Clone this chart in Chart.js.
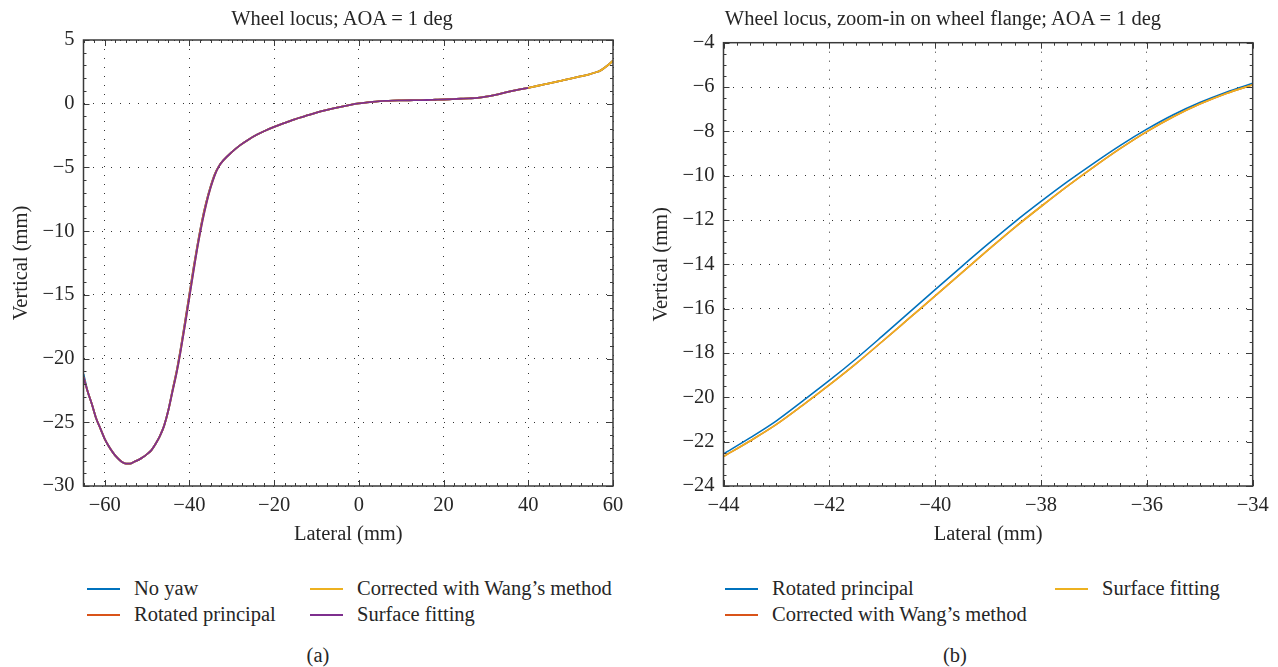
<!DOCTYPE html>
<html>
<head>
<meta charset="utf-8">
<script src="https://cdn.jsdelivr.net/npm/chart.js@4.4.0/dist/chart.umd.min.js"></script>
<style>
  html, body { margin: 0; padding: 0; background: #fff; }
  #page { position: relative; width: 1278px; height: 667px; overflow: hidden;
          font-family: 'Liberation Serif', 'Times New Roman', serif; color: #262626; }
  canvas { position: absolute; top: 0; }
  .title { position: absolute; top: 6px; font-size: 20.5px; line-height: 24px; white-space: nowrap; transform: translateX(-50%); }
  .item { position: absolute; font-size: 20.5px; line-height: 24px; white-space: nowrap; }
  .item i { display: inline-block; width: 33px; height: 2px; vertical-align: middle; margin-right: 14px; position: relative; top: -1px; }
  .cap { position: absolute; top: 643px; font-size: 20.5px; line-height: 24px; transform: translateX(-50%); }
</style>
</head>
<body>
<div id="page">
  <canvas id="wheel-locus" width="640" height="560" style="left:0px"></canvas>
  <canvas id="wheel-flange" width="638" height="560" style="left:640px"></canvas>

  <div class="title" style="left:342px">Wheel locus; AOA = 1 deg</div>
  <div class="title" style="left:943px">Wheel locus, zoom-in on wheel flange; AOA = 1 deg</div>

  <div class="item" style="left:87px; top:576px"><i style="background:#0072BD"></i>No yaw</div>
  <div class="item" style="left:87px; top:602px"><i style="background:#D95319"></i>Rotated principal</div>
  <div class="item" style="left:310px; top:576px"><i style="background:#EDB120"></i>Corrected with Wang’s method</div>
  <div class="item" style="left:310px; top:602px"><i style="background:#7E2F8E"></i>Surface fitting</div>

  <div class="item" style="left:725px; top:576px"><i style="background:#0072BD"></i>Rotated principal</div>
  <div class="item" style="left:725px; top:602px"><i style="background:#D95319"></i>Corrected with Wang’s method</div>
  <div class="item" style="left:1055px; top:576px"><i style="background:#EDB120"></i>Surface fitting</div>

  <div class="cap" style="left:318px">(a)</div>
  <div class="cap" style="left:955px">(b)</div>
</div>

<script>
// (a) full wheel locus
const leftLateral = [-65, -64, -63, -62, -61, -60, -59, -58, -57, -56, -55, -54, -53, -52, -51, -50, -49, -48, -47, -46,
    -45, -44, -43, -42, -41, -40, -39, -38, -37, -36, -35, -34, -33, -32,
    -30, -28, -26, -24, -22, -20, -18, -16, -14, -12, -10, -8, -6, -4, -2, 0, 2, 4, 6, 8, 10, 12, 14, 16, 18, 20,
    22, 24, 26, 28, 30, 32, 34, 36, 38, 40, 42, 44, 46, 48, 50, 52, 54, 56, 57, 58, 59, 60];

const noYaw = [-21.2, -22.6, -23.6, -24.7, -25.5, -26.3, -26.9, -27.4, -27.8, -28.1, -28.25, -28.25, -28.1, -27.95, -27.75, -27.5, -27.2, -26.7, -26.1, -25.3,
    -24.1, -22.5, -20.95, -19.1, -17.05, -14.95, -12.85, -10.9, -9.15, -7.7, -6.5, -5.52, -4.88, -4.45,
    -3.8, -3.25, -2.8, -2.42, -2.1, -1.82, -1.56, -1.33, -1.1, -0.9, -0.7, -0.52, -0.36, -0.22, -0.09, 0.02, 0.1, 0.17, 0.22, 0.25, 0.26, 0.27, 0.28, 0.29, 0.31, 0.33,
    0.36, 0.39, 0.42, 0.46, 0.55, 0.68, 0.83, 0.98, 1.12, 1.25, 1.39, 1.53, 1.67, 1.82, 1.97, 2.12, 2.27, 2.47, 2.6, 2.82, 3.08, 3.37];

const rotatedPrincipal = [-21.45, -22.6, -23.6, -24.7, -25.5, -26.3, -26.9, -27.4, -27.8, -28.1, -28.25, -28.25, -28.1, -27.95, -27.75, -27.5, -27.2, -26.7, -26.1, -25.3,
    -24.1, -22.5, -20.95, -19.1, -17.05, -14.95, -12.85, -10.9, -9.15, -7.7, -6.5, -5.52, -4.88, -4.45,
    -3.8, -3.25, -2.8, -2.42, -2.1, -1.82, -1.56, -1.33, -1.1, -0.9, -0.7, -0.52, -0.36, -0.22, -0.09, 0.02, 0.1, 0.17, 0.22, 0.25, 0.26, 0.27, 0.28, 0.29, 0.31, 0.33,
    0.36, 0.39, 0.42, 0.46, 0.55, 0.68, 0.83, 0.98, 1.12, 1.25, 1.39, 1.53, 1.67, 1.82, 1.97, 2.12, 2.27, 2.47, 2.6, 2.82, 3.08, 3.37];

const wangCorrected = [-21.45, -22.6, -23.6, -24.7, -25.5, -26.3, -26.9, -27.4, -27.8, -28.1, -28.25, -28.25, -28.1, -27.95, -27.75, -27.5, -27.2, -26.7, -26.1, -25.3,
    -24.1, -22.6, -21.1, -19.3, -17.3, -15.2, -13.1, -11.1, -9.35, -7.85, -6.6, -5.6, -4.9, -4.45,
    -3.8, -3.25, -2.8, -2.42, -2.1, -1.82, -1.56, -1.33, -1.1, -0.9, -0.7, -0.52, -0.36, -0.22, -0.09, 0.02, 0.1, 0.17, 0.22, 0.25, 0.26, 0.27, 0.28, 0.29, 0.31, 0.33,
    0.36, 0.39, 0.42, 0.46, 0.55, 0.68, 0.83, 0.98, 1.12, 1.25, 1.39, 1.53, 1.67, 1.82, 1.97, 2.12, 2.27, 2.47, 2.6, 2.82, 3.08, 3.37];

// surface fitting stops at 40 mm
const surfaceFit = [-21.45, -22.6, -23.6, -24.7, -25.5, -26.3, -26.9, -27.4, -27.8, -28.1, -28.25, -28.25, -28.1, -27.95, -27.75, -27.5, -27.2, -26.7, -26.1, -25.3,
    -24.1, -22.6, -21.1, -19.3, -17.3, -15.2, -13.1, -11.1, -9.35, -7.85, -6.6, -5.6, -4.9, -4.45,
    -3.8, -3.25, -2.8, -2.42, -2.1, -1.82, -1.56, -1.33, -1.1, -0.9, -0.7, -0.52, -0.36, -0.22, -0.09, 0.02, 0.1, 0.17, 0.22, 0.25, 0.26, 0.27, 0.28, 0.29, 0.31, 0.33,
    0.36, 0.39, 0.42, 0.46, 0.55, 0.68, 0.83, 0.98, 1.12, 1.25];

const leftXTicks = [-60, -40, -20, 0, 20, 40, 60];
const leftYTicks = [-30, -25, -20, -15, -10, -5, 0, 5];

// (b) zoom on the flange
const zoomLateral = [-44, -43.5, -43, -42.5, -42, -41.5, -41, -40.5, -40, -39.5, -39, -38.5, -38, -37.5, -37, -36.5, -36, -35.5, -35, -34.5, -34];
const rotatedZoom = [-22.55, -21.83, -21.06, -20.16, -19.24, -18.27, -17.24, -16.19, -15.14, -14.10, -13.08, -12.09, -11.16, -10.27, -9.43, -8.63, -7.90, -7.25, -6.70, -6.23, -5.83];
const wangZoom = [-22.67, -21.97, -21.22, -20.35, -19.44, -18.49, -17.48, -16.45, -15.42, -14.38, -13.35, -12.34, -11.39, -10.47, -9.60, -8.77, -8.01, -7.34, -6.77, -6.29, -5.90];
const surfaceZoom = [-22.67, -21.97, -21.22, -20.35, -19.44, -18.49, -17.48, -16.45, -15.42, -14.38, -13.35, -12.34, -11.39, -10.47, -9.60, -8.77, -8.01, -7.34, -6.77, -6.29, -5.90];

const rightXTicks = [-44, -42, -40, -38, -36, -34];
const rightYTicks = [-24, -22, -20, -18, -16, -14, -12, -10, -8, -6, -4];

Chart.defaults.font.family = "'Liberation Serif', 'Times New Roman', serif";
Chart.defaults.font.size = 20.5;
Chart.defaults.color = '#262626';

function pts(xs, ys) {
    return ys.map((y, i) => ({x: xs[i], y: y}));
}

function minus(v) {
    return v < 0 ? '\u2212' + Math.abs(v) : String(v);
}

// box round the plot with inward major and minor ticks, like the original figure
const boxTicks = {
    id: 'boxTicks',
    afterDraw(chart, args, opts) {
        const {ctx, chartArea: a} = chart;
        const sx = chart.scales.x, sy = chart.scales.y;
        ctx.save();
        ctx.strokeStyle = '#3a3a3a';
        ctx.lineWidth = 1;
        ctx.beginPath();
        const mark = (s, v, len) => {
            const p = Math.round(s.getPixelForValue(v)) + 0.5;
            if (s.isHorizontal()) {
                ctx.moveTo(p, a.bottom); ctx.lineTo(p, a.bottom - len);
                ctx.moveTo(p, a.top); ctx.lineTo(p, a.top + len);
            } else {
                ctx.moveTo(a.left, p); ctx.lineTo(a.left + len, p);
                ctx.moveTo(a.right, p); ctx.lineTo(a.right - len, p);
            }
        };
        [[sx, opts.xMinor], [sy, opts.yMinor]].forEach(([s, step]) => {
            for (let v = s.min; v <= s.max + 1e-9; v += step) mark(s, v, 3);
            s.ticks.forEach(t => mark(s, t.value, 6));
        });
        ctx.stroke();
        ctx.lineWidth = 1.5;
        ctx.strokeRect(a.left, a.top, a.right - a.left, a.bottom - a.top);
        ctx.restore();
    }
};

// order: higher number is painted first, so the last series of the legend ends on top
function line(label, data, color, width, order) {
    return {
        label: label,
        data: data,
        order: order,
        showLine: true,
        borderColor: color,
        backgroundColor: color,
        borderWidth: width,
        pointRadius: 0,
        cubicInterpolationMode: 'monotone',
        fill: false
    };
}

function axis(min, max, tickValues, title, horizontal) {
    const a = {
        type: 'linear',
        min: min,
        max: max,
        afterBuildTicks: s => { s.ticks = tickValues.map(v => ({value: v})); },
        ticks: {padding: horizontal ? 7 : 9, autoSkip: false, maxRotation: 0, callback: v => minus(v)},
        grid: {color: 'rgba(0,0,0,0.8)', lineWidth: 1, drawTicks: false},
        border: {display: false, dash: [1, 8]},
        title: {display: true, text: title}
    };
    if (horizontal) {
        a.afterFit = s => { s.height = 74; };
        a.title.padding = {top: 0, bottom: 12.7};
    } else {
        a.afterFit = s => { s.width = 83.5; };
        a.title.padding = {top: 9, bottom: 0};
    }
    return a;
}

new Chart('wheel-locus', {
    type: 'scatter',
    data: {
        datasets: [
            line('No yaw', pts(leftLateral, noYaw), '#0072BD', 1.8, 4),
            line('Rotated principal', pts(leftLateral, rotatedPrincipal), '#D95319', 1.8, 3),
            line('Corrected with Wang’s method', pts(leftLateral, wangCorrected), '#EDB120', 1.8, 2),
            line('Surface fitting', pts(leftLateral, surfaceFit), '#7E2F8E', 1.8, 1)
        ]
    },
    options: {
        responsive: false,
        animation: false,
        devicePixelRatio: 1,
        layout: {padding: {top: 40, right: 27, left: 0, bottom: 0}},
        scales: {
            x: axis(-65, 60, leftXTicks, 'Lateral (mm)', true),
            y: axis(-30, 5, leftYTicks, 'Vertical (mm)', false)
        },
        plugins: {
            legend: {display: false},
            tooltip: {enabled: false},
            boxTicks: {xMinor: 2.5, yMinor: 1}
        }
    },
    plugins: [boxTicks]
});

new Chart('wheel-flange', {
    type: 'scatter',
    data: {
        datasets: [
            line('Rotated principal', pts(zoomLateral, rotatedZoom), '#0072BD', 1.6, 3),
            line('Corrected with Wang’s method', pts(zoomLateral, wangZoom), '#D95319', 1.6, 2),
            line('Surface fitting', pts(zoomLateral, surfaceZoom), '#EDB120', 1.6, 1)
        ]
    },
    options: {
        responsive: false,
        animation: false,
        devicePixelRatio: 1,
        layout: {padding: {top: 42.7, right: 25.3, left: 0, bottom: 0}},
        scales: {
            x: axis(-44, -34, rightXTicks, 'Lateral (mm)', true),
            y: axis(-24, -4, rightYTicks, 'Vertical (mm)', false)
        },
        plugins: {
            legend: {display: false},
            tooltip: {enabled: false},
            boxTicks: {xMinor: 0.25, yMinor: 0.5}
        }
    },
    plugins: [boxTicks]
});
</script>
</body>
</html>
